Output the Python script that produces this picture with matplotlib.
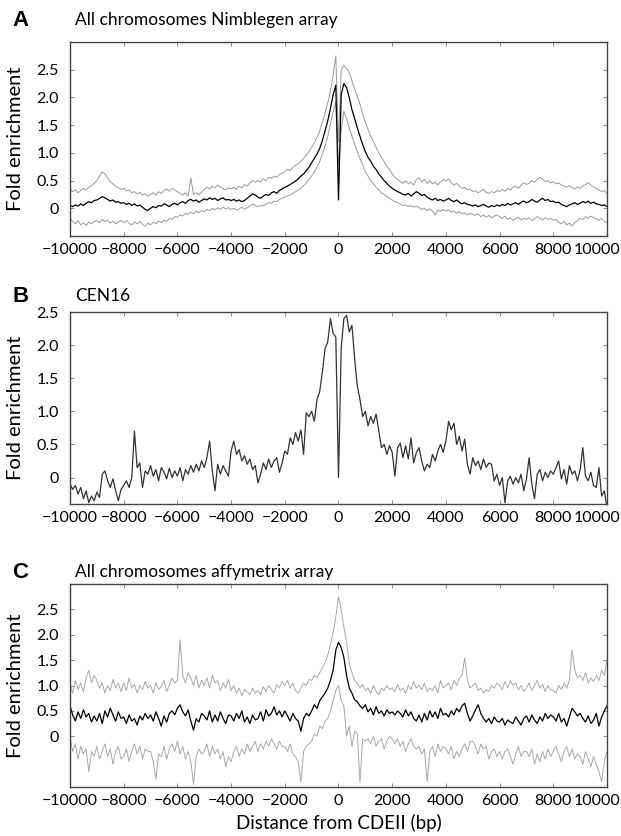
import numpy as np
import matplotlib
matplotlib.use("Agg")
import matplotlib.pyplot as plt
from matplotlib.transforms import ScaledTranslation

plt.rcParams['font.family'] = ['Lato', 'DejaVu Sans']

# -----------------------------
# Data (fold enrichment, 100 bp steps)
# -----------------------------
pos = np.arange(-10000, 10001, 100)

# A: all chromosomes, Nimblegen array (mean and upper / lower band)
nim_mean = [
    0.05, 0.03, 0.06, 0.04, 0.08, 0.05, 0.09, 0.12, 0.10, 0.14,
    0.15, 0.18, 0.21, 0.19, 0.16, 0.13, 0.15, 0.11, 0.12, 0.09,
    0.10, 0.07, 0.09, 0.05, 0.08, 0.04, 0.06, 0.02, -0.02, -0.04,
    0.00, 0.03, 0.01, 0.05, 0.04, 0.08, 0.06, 0.03, 0.07, 0.09,
    0.06, 0.10, 0.12, 0.09, 0.14, 0.16, 0.13, 0.15, 0.11, 0.14,
    0.17, 0.15, 0.19, 0.16, 0.18, 0.14, 0.17, 0.19, 0.15, 0.16,
    0.14, 0.16, 0.13, 0.15, 0.12, 0.14, 0.18, 0.22, 0.26, 0.24,
    0.20, 0.18, 0.22, 0.25, 0.23, 0.28, 0.30, 0.27, 0.32, 0.35,
    0.38, 0.40, 0.43, 0.46, 0.49, 0.53, 0.58, 0.62, 0.68, 0.74,
    0.82, 0.90, 0.98, 1.08, 1.22, 1.40, 1.58, 1.80, 2.05, 2.22,
    0.15,
    2.05, 2.25, 2.18, 2.00, 1.78, 1.62, 1.45, 1.30, 1.15, 1.02,
    0.92, 0.85, 0.76, 0.70, 0.62, 0.56, 0.50, 0.45, 0.40, 0.36,
    0.33, 0.30, 0.28, 0.25, 0.24, 0.27, 0.22, 0.26, 0.30, 0.27,
    0.23, 0.25, 0.20, 0.17, 0.15, 0.18, 0.14, 0.16, 0.13, 0.15,
    0.18, 0.14, 0.12, 0.15, 0.11, 0.08, 0.10, 0.07, 0.06, 0.04,
    0.06, 0.03, 0.05, 0.07, 0.04, 0.02, 0.05, 0.03, 0.06, 0.04,
    0.07, 0.05, 0.09, 0.06, 0.08, 0.10, 0.07, 0.11, 0.13, 0.10,
    0.12, 0.16, 0.13, 0.11, 0.15, 0.18, 0.14, 0.16, 0.12, 0.13,
    0.10, 0.11, 0.07, 0.05, 0.03, 0.06, 0.08, 0.10, 0.07, 0.09,
    0.12, 0.10, 0.13, 0.09, 0.11, 0.08, 0.07, 0.05, 0.06, 0.03,
]
nim_upper = [
    0.35, 0.30, 0.33, 0.28, 0.32, 0.36, 0.33, 0.38, 0.41, 0.45,
    0.50, 0.58, 0.66, 0.62, 0.55, 0.48, 0.44, 0.40, 0.37, 0.34,
    0.36, 0.31, 0.33, 0.28, 0.30, 0.26, 0.29, 0.24, 0.26, 0.22,
    0.25, 0.28, 0.24, 0.30, 0.27, 0.32, 0.35, 0.31, 0.36, 0.33,
    0.30, 0.27, 0.24, 0.28, 0.22, 0.55, 0.25, 0.28, 0.24, 0.30,
    0.34, 0.38, 0.35, 0.40, 0.37, 0.42, 0.38, 0.36, 0.33, 0.37,
    0.35, 0.38, 0.34, 0.40, 0.37, 0.43, 0.40, 0.46, 0.50, 0.47,
    0.50, 0.47, 0.53, 0.50, 0.56, 0.54, 0.58, 0.56, 0.61, 0.63,
    0.66, 0.70, 0.68, 0.74, 0.78, 0.80, 0.85, 0.90, 0.96, 1.02,
    1.10, 1.18, 1.28, 1.40, 1.55, 1.72, 1.90, 2.12, 2.40, 2.75,
    1.20,
    2.50, 2.58, 2.52, 2.45, 2.30, 2.15, 2.02, 1.88, 1.70, 1.55,
    1.42, 1.30, 1.20, 1.10, 1.00, 0.92, 0.84, 0.76, 0.70, 0.62,
    0.56, 0.52, 0.48, 0.45, 0.50, 0.44, 0.47, 0.42, 0.52, 0.55,
    0.48, 0.52, 0.45, 0.50, 0.44, 0.47, 0.42, 0.48, 0.52, 0.49,
    0.53, 0.46, 0.42, 0.45, 0.40, 0.36, 0.38, 0.33, 0.35, 0.30,
    0.32, 0.28, 0.31, 0.34, 0.29, 0.27, 0.30, 0.28, 0.32, 0.30,
    0.34, 0.31, 0.36, 0.33, 0.38, 0.40, 0.36, 0.42, 0.46, 0.43,
    0.45, 0.50, 0.47, 0.52, 0.56, 0.53, 0.48, 0.50, 0.46, 0.48,
    0.44, 0.46, 0.42, 0.40, 0.38, 0.41, 0.37, 0.35, 0.39, 0.36,
    0.40, 0.43, 0.46, 0.42, 0.38, 0.36, 0.33, 0.30, 0.32, 0.27,
]
nim_lower = [
    -0.18, -0.24, -0.28, -0.22, -0.30, -0.26, -0.31, -0.25, -0.28, -0.24,
    -0.22, -0.26, -0.20, -0.24, -0.21, -0.27, -0.23, -0.28, -0.25, -0.22,
    -0.26, -0.22, -0.27, -0.30, -0.25, -0.28, -0.24, -0.29, -0.32, -0.27,
    -0.30, -0.25, -0.28, -0.23, -0.26, -0.21, -0.24, -0.18, -0.20, -0.15,
    -0.16, -0.12, -0.14, -0.09, -0.11, -0.07, -0.10, -0.05, -0.08, -0.04,
    -0.06, -0.02, -0.04, 0.00, -0.03, 0.01, -0.02, 0.02, -0.01, 0.01,
    -0.02, 0.00, -0.03, -0.01, 0.02, -0.02, 0.01, 0.04, 0.08, 0.05,
    0.03, 0.06, 0.04, 0.08, 0.10, 0.09, 0.13, 0.12, 0.16, 0.18,
    0.20, 0.22, 0.24, 0.27, 0.30, 0.33, 0.36, 0.41, 0.46, 0.52,
    0.58, 0.66, 0.74, 0.84, 0.98, 1.12, 1.30, 1.52, 1.75, 1.92,
    0.80,
    1.40, 1.75, 1.62, 1.45, 1.30, 1.16, 1.02, 0.90, 0.78, 0.66,
    0.58, 0.50, 0.44, 0.38, 0.33, 0.28, 0.25, 0.21, 0.18, 0.15,
    0.12, 0.10, 0.08, 0.05, 0.06, 0.03, 0.05, 0.02, 0.04, 0.01,
    -0.02, 0.00, -0.04, -0.01, -0.05, -0.12, -0.03, -0.06, -0.02, -0.05,
    -0.03, -0.07, -0.05, -0.09, -0.06, -0.10, -0.08, -0.12, -0.09, -0.11,
    -0.13, -0.10, -0.15, -0.12, -0.16, -0.13, -0.17, -0.14, -0.12, -0.15,
    -0.18, -0.14, -0.20, -0.17, -0.22, -0.19, -0.16, -0.21, -0.18, -0.20,
    -0.17, -0.22, -0.19, -0.15, -0.18, -0.21, -0.17, -0.20, -0.18, -0.22,
    -0.20, -0.25, -0.28, -0.24, -0.30, -0.27, -0.32, -0.26, -0.22, -0.18,
    -0.20, -0.15, -0.18, -0.14, -0.17, -0.19, -0.22, -0.18, -0.24, -0.26,
]

# B: CEN16
cen16 = [
    -0.10, -0.18, -0.12, -0.25, -0.15, -0.32, -0.20, -0.38, -0.28, -0.35,
    -0.22, -0.30, 0.05, 0.10, -0.05, -0.15, -0.02, -0.20, -0.35, -0.18,
    -0.12, -0.05, -0.15, 0.00, 0.70, 0.15, 0.22, -0.15, 0.10, 0.05,
    0.18, 0.02, 0.12, -0.05, 0.15, 0.08, -0.02, 0.14, 0.00, 0.10,
    0.02, 0.15, -0.05, 0.12, 0.05, 0.18, 0.08, 0.20, 0.10, 0.25,
    0.15, 0.30, 0.55, 0.10, -0.20, 0.20, 0.05, 0.18, 0.10, 0.02,
    0.40, 0.55, 0.35, 0.42, 0.25, 0.33, 0.20, 0.28, 0.12, 0.18,
    -0.08, 0.05, 0.22, 0.12, 0.28, 0.15, 0.25, 0.30, 0.08, 0.22,
    0.40, 0.35, 0.60, 0.50, 0.68, 0.55, 0.72, 0.35, 0.98, 0.92,
    1.00, 0.85, 1.18, 1.30, 1.60, 1.95, 2.05, 2.40, 2.18, 2.12,
    0.00,
    1.95, 2.40, 2.45, 2.20, 2.30, 1.80, 1.38, 1.18, 0.92, 1.00,
    0.78, 0.92, 0.82, 0.96, 0.70, 0.45, 0.50, 0.35, 0.48, 0.38,
    0.02, 0.45, 0.52, 0.30, 0.48, 0.28, 0.60, 0.22, 0.38, 0.45,
    0.25, 0.10, 0.20, 0.15, 0.35, 0.25, 0.40, 0.50, 0.38, 0.55,
    0.85, 0.72, 0.82, 0.50, 0.62, 0.40, 0.58, 0.20, 0.05, 0.30,
    0.18, 0.25, 0.12, 0.28, 0.15, 0.22, 0.20, -0.05, 0.05, -0.12,
    0.00, -0.38, -0.05, 0.02, -0.10, 0.00, -0.08, 0.05, -0.20, -0.02,
    0.30, -0.10, -0.32, 0.05, 0.12, -0.05, 0.08, 0.00, 0.10, 0.05,
    0.15, 0.25, -0.02, 0.12, -0.10, 0.18, 0.05, 0.10, -0.05, 0.12,
    0.45, 0.02, -0.05, 0.08, -0.12, -0.15, 0.15, -0.28, -0.20, -0.45,
]

# C: all chromosomes, affymetrix array (mean and upper / lower band)
affy_mean = [
    0.60, 0.42, 0.30, 0.48, 0.35, 0.52, 0.38, 0.45, 0.28, 0.40,
    0.30, 0.45, 0.25, 0.50, 0.38, 0.55, 0.42, 0.30, 0.48, 0.35,
    0.38, 0.25, 0.42, 0.30, 0.35, 0.22, 0.40, 0.32, 0.45, 0.35,
    0.42, 0.30, 0.48, 0.35, 0.20, 0.40, 0.28, 0.45, 0.50, 0.42,
    0.55, 0.62, 0.48, 0.40, 0.52, 0.30, 0.12, 0.35, 0.28, 0.45,
    0.40, 0.32, 0.50, 0.28, 0.42, 0.30, 0.48, 0.35, 0.25, 0.42,
    0.40, 0.30, 0.45, 0.35, 0.50, 0.28, 0.38, 0.25, 0.42, 0.32,
    0.35, 0.48, 0.30, 0.52, 0.40, 0.45, 0.58, 0.42, 0.50, 0.38,
    0.50, 0.40, 0.30, 0.45, 0.35, 0.30, 0.10, 0.35, 0.45, 0.40,
    0.50, 0.62, 0.55, 0.70, 0.78, 0.85, 0.95, 1.10, 1.30, 1.70,
    1.85,
    1.75, 1.55, 1.20, 0.95, 0.85, 0.72, 0.68, 0.60, 0.55, 0.62,
    0.48, 0.55, 0.42, 0.58, 0.45, 0.50, 0.40, 0.52, 0.45, 0.48,
    0.42, 0.50, 0.45, 0.38, 0.52, 0.40, 0.48, 0.35, 0.30, 0.42,
    0.28, 0.45, 0.32, 0.50, 0.38, 0.48, 0.35, 0.55, 0.42, 0.45,
    0.38, 0.50, 0.42, 0.55, 0.48, 0.60, 0.65, 0.45, 0.30, 0.40,
    0.52, 0.62, 0.45, 0.35, 0.28, 0.35, 0.25, 0.38, 0.30, 0.28,
    0.35, 0.22, 0.32, 0.28, 0.25, 0.38, 0.30, 0.22, 0.35, 0.40,
    0.28, 0.42, 0.32, 0.25, 0.38, 0.30, 0.45, 0.35, 0.42, 0.38,
    0.30, 0.45, 0.28, 0.35, 0.20, 0.38, 0.55, 0.48, 0.40, 0.45,
    0.35, 0.28, 0.40, 0.25, 0.32, 0.45, 0.20, 0.38, 0.50, 0.60,
]
affy_upper = [
    1.00, 0.85, 1.10, 0.92, 1.05, 0.88, 1.15, 1.30, 1.05, 1.20,
    1.10, 0.95, 1.05, 0.85, 1.00, 0.90, 1.12, 0.95, 1.05, 0.88,
    1.05, 0.90, 1.15, 0.95, 1.02, 0.85, 1.00, 0.92, 1.08, 0.95,
    1.00, 0.85, 1.05, 0.92, 0.98, 1.10, 0.88, 1.00, 1.15, 1.05,
    1.10, 1.90, 1.20, 1.05, 1.25, 1.15, 1.00, 1.20, 0.95, 1.10,
    1.00, 1.15, 0.95, 1.20, 1.05, 1.10, 0.90, 1.05, 0.95, 1.12,
    0.90, 1.00, 0.85, 0.95, 0.80, 0.92, 0.88, 0.82, 0.95, 0.85,
    0.90, 0.82, 0.98, 0.88, 1.00, 0.92, 0.85, 1.02, 0.95, 1.08,
    1.00, 1.10, 0.95, 1.05, 0.90, 0.85, 0.95, 1.05, 1.00, 1.12,
    1.10, 1.20, 1.15, 1.25, 1.35, 1.45, 1.60, 1.80, 2.05, 2.35,
    2.75,
    2.50, 2.15, 1.85, 1.45, 1.25, 1.10, 1.05, 0.95, 1.02, 0.90,
    0.95, 0.85, 1.00, 0.88, 0.82, 0.95, 0.90, 1.00, 0.92, 0.95,
    0.88, 1.02, 0.90, 0.95, 0.85, 1.00, 0.92, 1.08, 0.95, 1.00,
    0.92, 1.05, 0.88, 0.95, 0.90, 1.00, 0.85, 1.10, 0.95, 1.00,
    1.05, 0.92, 1.10, 1.00, 1.15, 1.20, 1.55, 1.10, 0.95, 1.00,
    1.05, 0.90, 0.95, 0.85, 0.92, 0.88, 1.00, 0.95, 1.05, 1.00,
    0.92, 1.08, 0.95, 1.10, 1.00, 1.05, 0.92, 1.00, 0.88, 0.95,
    1.05, 0.90, 1.00, 1.10, 0.95, 1.02, 0.88, 1.00, 0.92, 0.90,
    0.85, 1.00, 0.92, 1.05, 0.95, 1.10, 1.70, 1.30, 1.15, 1.20,
    1.10, 1.25, 1.05, 1.15, 1.08, 1.20, 1.10, 1.30, 1.20, 1.50,
]
affy_lower = [
    0.00, -0.30, -0.15, -0.45, -0.20, -0.35, -0.25, -0.70, -0.30, -0.40,
    -0.20, -0.45, -0.30, -0.15, -0.40, -0.25, -0.55, -0.30, -0.20, -0.45,
    -0.40, -0.25, -0.50, -0.30, -0.15, -0.35, -0.20, -0.45, -0.25, -0.30,
    -0.30, -0.50, -0.85, -0.35, -0.40, -0.20, -0.45, -0.25, -0.15, -0.30,
    -0.10, -0.35, -0.20, -0.45, -0.30, -0.50, -0.95, -0.40, -0.25, -0.35,
    -0.30, -0.15, -0.40, -0.20, -0.35, -0.25, -0.45, -0.30, -0.60, -0.40,
    -0.50, -0.30, -0.20, -0.40, -0.25, -0.35, -0.15, -0.30, -0.20, -0.10,
    -0.30, -0.15, -0.25, -0.10, -0.20, -0.05, -0.15, -0.25, -0.10, -0.20,
    -0.20, -0.30, -0.15, -0.35, -0.40, -0.50, -0.90, -0.30, -0.20, -0.15,
    -0.10, 0.05, 0.00, 0.20, 0.15, 0.30, 0.35, 0.50, 0.70, 0.90,
    1.00,
    0.70, 0.60, 0.00, 0.20, -0.20, 0.10, 0.05, -0.90, -0.05, -0.10,
    -0.05, -0.15, 0.00, -0.20, -0.10, -0.05, -0.25, -0.10, 0.00, -0.05,
    -0.15, -0.05, -0.20, -0.10, -0.30, -0.15, -0.05, -0.20, -0.25, -0.20,
    -0.35, -0.25, -0.90, -0.30, -0.20, -0.40, -0.15, -0.30, -0.20, -0.25,
    -0.35, -0.20, -0.45, -0.30, -0.40, -0.25, -0.15, -0.30, -0.10, -0.10,
    -0.20, -0.35, -0.15, -0.25, -0.20, -0.45, -0.30, -0.25, -0.40, -0.30,
    -0.45, -0.30, -0.25, -0.40, -0.55, -0.35, -0.20, -0.40, -0.30, -0.30,
    -0.40, -0.25, -0.55, -0.35, -0.50, -0.30, -0.45, -0.25, -0.40, -0.30,
    -0.20, -0.35, -0.50, -0.30, -0.20, -0.40, -0.25, -0.45, -0.35, -0.40,
    -0.55, -0.30, -0.45, -0.60, -0.40, -0.55, -0.70, -0.90, -0.50, -0.30,
]

xticks = [-10000, -8000, -6000, -4000, -2000, 0, 2000, 4000, 6000, 8000, 10000]
yticks = [0, 0.5, 1.0, 1.5, 2.0, 2.5]
ytick_labels = ["0", "0.5", "1.0", "1.5", "2.0", "2.5"]

# -----------------------------
# Figure
# -----------------------------
W, H = 621, 836
fig = plt.figure(figsize=(W / 100, H / 100), dpi=100)


def add_panel(top, bottom, ylim):
    ax = fig.add_axes([70 / W, 1 - bottom / H, 537 / W, (bottom - top) / H])
    ax.set_xlim(-10000, 10000)
    ax.set_ylim(*ylim)
    ax.set_xticks(xticks)
    ax.set_xticklabels([str(t).replace("-", "\u2212") for t in xticks])
    ax.set_yticks(yticks)
    ax.set_yticklabels(ytick_labels)
    ax.tick_params(direction="in", length=3, width=0.6, color="#777777",
                   top=True, right=True, labelsize=11.5, pad=5)
    ax.tick_params(axis="y", pad=8)
    # nudge the last x label left so it stays inside the figure
    last = ax.get_xticklabels()[-1]
    last.set_transform(last.get_transform()
                       + ScaledTranslation(-7 / 72, 0, fig.dpi_scale_trans))
    for s in ax.spines.values():
        s.set_color("#444444")
        s.set_linewidth(1.0)
    ax.set_ylabel("Fold enrichment", fontsize=14.5)
    # y label centred about 24 px from the left edge of the figure
    ax.yaxis.set_label_coords((24 - 70) / 537, 0.5)
    return ax


# A
axA = add_panel(42, 236, (-0.5, 3.0))
axA.plot(pos, nim_upper, color="#9a9a9a", lw=0.7)
axA.plot(pos, nim_lower, color="#9a9a9a", lw=0.7)
axA.plot(pos, nim_mean, color="black", lw=0.9)

# B
axB = add_panel(312, 504, (-0.4, 2.5))
axB.plot(pos, cen16, color="#333333", lw=0.9)

# C
axC = add_panel(584, 787, (-1.0, 3.0))
axC.plot(pos, affy_upper, color="#a8a8a8", lw=0.7)
axC.plot(pos, affy_lower, color="#a8a8a8", lw=0.7)
axC.plot(pos, affy_mean, color="black", lw=0.9)
axC.set_xlabel("Distance from CDEII (bp)", fontsize=13.5, labelpad=4)

# panel letters and titles
for letter, title, y in [("A", "All chromosomes Nimblegen array", 20),
                         ("B", "CEN16", 296),
                         ("C", "All chromosomes affymetrix array", 572)]:
    fig.text(12 / W, 1 - y / H, letter, fontsize=16, fontweight="bold",
             family="Liberation Sans", va="center", ha="left")
    fig.text(75 / W, 1 - y / H, title, fontsize=12.5, va="center", ha="left")

plt.savefig("out.png", dpi=100)
